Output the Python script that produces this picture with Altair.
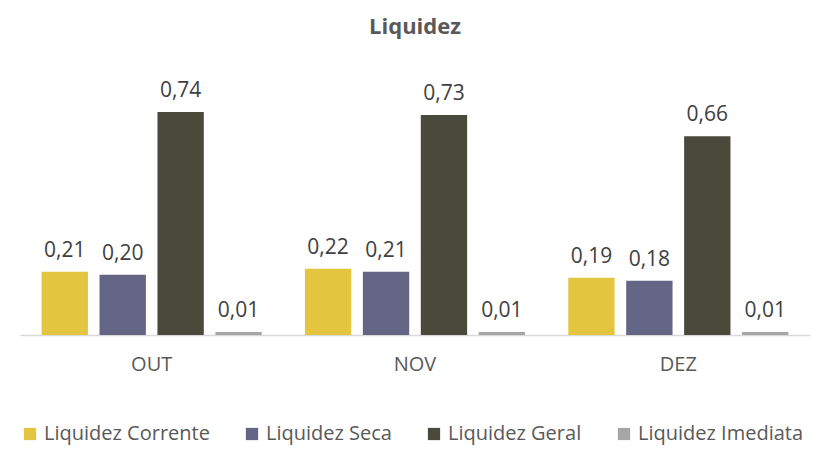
import altair as alt
import pandas as pd

months = ["OUT", "NOV", "DEZ"]
series = ["Liquidez Corrente", "Liquidez Seca", "Liquidez Geral", "Liquidez Imediata"]
corrente = [0.21, 0.22, 0.19]
seca = [0.20, 0.21, 0.18]
geral = [0.74, 0.73, 0.66]
imediata = [0.01, 0.01, 0.01]
colors = ["#E3C53F", "#646485", "#4A4A3C", "#A6A6A6"]

rows = []
for s, vals in zip(series, [corrente, seca, geral, imediata]):
    for m, v in zip(months, vals):
        rows.append({"mes": m, "serie": s, "valor": v})
df = pd.DataFrame(rows)

FONT = "Open Sans"

base = alt.Chart(df).encode(
    x=alt.X("mes:N", sort=months, title=None,
            scale=alt.Scale(paddingInner=0.12, paddingOuter=0.06),
            axis=alt.Axis(labelAngle=0, ticks=False, labelPadding=19, labelFontSize=20,
                          labelColor="#595959", labelFont=FONT, domainColor="#D9D9D9",
                          domainWidth=1.5, grid=False)),
    xOffset=alt.XOffset("serie:N", sort=series,
                        scale=alt.Scale(paddingInner=0.2, paddingOuter=0.1)),
    y=alt.Y("valor:Q", scale=alt.Scale(domain=[0, 0.8]), axis=None),
)

bars = base.mark_bar().encode(
    color=alt.Color("serie:N", sort=series, scale=alt.Scale(domain=series, range=colors),
                    legend=alt.Legend(title=None, orient="bottom", direction="horizontal",
                                      symbolType="square", symbolSize=150, symbolStrokeWidth=0,
                                      labelFontSize=20, labelColor="#595959", labelFont=FONT,
                                      labelLimit=0, columnPadding=32, symbolOffset=0,
                                      offset=50, labelOffset=4, padding=0))
)

labels = base.mark_text(baseline="bottom", dy=-11, fontSize=21, color="#404040", font=FONT).transform_calculate(
    lbl="replace(format(datum.valor, '.2f'), '.', ',')"
).encode(text="lbl:N")

chart = alt.layer(bars, labels).properties(
    width=790, height=241,
    title=alt.Title("Liquidez", fontSize=22, font=FONT, fontWeight="bold", color="#595959", offset=41),
    padding={"left": 12, "top": 8, "right": 2, "bottom": 5},
).configure_view(stroke=None)

chart.save("out.html", embed_options={"renderer": "svg", "actions": False})
